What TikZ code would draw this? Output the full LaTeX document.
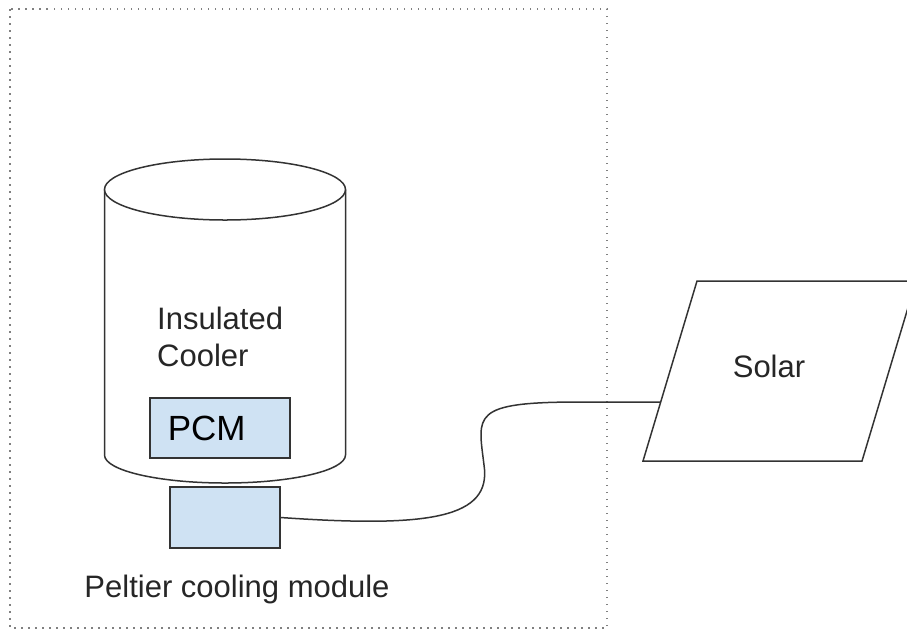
\documentclass[tikz,border=0pt]{standalone}
\usepackage{fontspec}
\setmainfont{Liberation Sans}
\usetikzlibrary{positioning}

\definecolor{pcmblue}{HTML}{CFE2F3}
\definecolor{linegray}{HTML}{333333}

\tikzset{
	outline/.style={draw=linegray, line width=1.5pt},
	bluebox/.style={outline, fill=pcmblue},
	bigtext/.style={font=\fontsize{31}{37}\selectfont, text=black!85, inner sep=0pt, align=left},
	wire/.style={linegray, line width=1.5pt},
}

\begin{document}
\begin{tikzpicture}[x=1pt, y=-1pt]
	
	\useasboundingbox (0,0) rectangle (907,630);
	
	\def\cx{225.0};
	\def\rx{120.5};
	\def\cyltop{189.5};
	\def\cylbot{455};
	
	% dotted frame
	\draw[gray, line width=1.2pt, dash pattern=on 1.5pt off 5.5pt] (10,9) rectangle (607,628);
	
	% cooler
	\draw[outline, fill=white] (\cx-\rx,\cyltop) -- (\cx-\rx,\cylbot) arc (180:360:\rx pt and 28pt) -- (\cx+\rx,\cyltop);
	\draw[outline, fill=white] (\cx,\cyltop) ellipse [x radius=\rx pt, y radius=30.5pt];
	
	\node[bigtext, anchor=north west] (cooler) at (157,307) {Insulated\\Cooler};
	\node[bluebox, anchor=west, minimum height=60pt, text width=104pt, inner xsep=18pt, inner ysep=0pt, font=\fontsize{35}{40}\selectfont, align=left] (pcm) at (149,428) {PCM};
	
	% peltier
	\node[bluebox, minimum width=110pt, minimum height=61pt] (peltier) at (225,517.5) {};
	\node[bigtext, anchor=base] (peltierlabel) at (237,597) {Peltier cooling module};
	
	% solar panel
	\draw[outline] (697,281) -- (916,281) -- (862,461) -- (643,461) -- cycle;
	\node[bigtext] (solar) at (769,366) {Solar};
	\coordinate (solarin) at (660.7,402);
	
	\draw[wire] (peltier.east) .. controls (430,528) and (492,518) .. (484,465) .. controls (478,415) and (470,402) .. (580,402) -- (solarin);
	
\end{tikzpicture}
\end{document}
